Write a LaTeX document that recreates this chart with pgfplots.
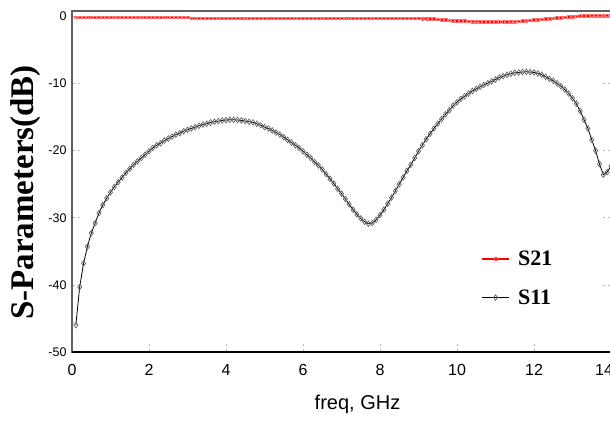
\documentclass[border=0pt]{standalone}
\usepackage{fontspec}
\setmainfont{Liberation Serif}
\setsansfont{Liberation Sans}
\usepackage{pgfplots}
\usepackage{pgfplotstable}
\pgfplotsset{compat=1.18}

\pgfplotstableread{
f s11 s21
0.1 -46.0 -0.15
0.2 -40.3 -0.15
0.3 -36.8 -0.15
0.4 -34.3 -0.15
0.5 -32.3 -0.15
0.6 -30.8 -0.15
0.7 -29.3 -0.15
0.8 -28.1 -0.15
0.9 -27.1 -0.15
1.0 -26.2 -0.15
1.1 -25.4 -0.15
1.2 -24.7 -0.15
1.3 -24.0 -0.15
1.4 -23.3 -0.15
1.5 -22.7 -0.15
1.6 -22.1 -0.15
1.7 -21.6 -0.15
1.8 -21.1 -0.15
1.9 -20.6 -0.15
2.0 -20.1 -0.15
2.1 -19.6 -0.15
2.2 -19.2 -0.15
2.3 -18.9 -0.15
2.4 -18.5 -0.15
2.5 -18.2 -0.15
2.6 -17.9 -0.15
2.7 -17.6 -0.15
2.8 -17.4 -0.15
2.9 -17.1 -0.15
3.0 -16.9 -0.15
3.1 -16.7 -0.3
3.2 -16.5 -0.3
3.3 -16.3 -0.3
3.4 -16.1 -0.3
3.5 -16.0 -0.3
3.6 -15.8 -0.3
3.7 -15.7 -0.3
3.8 -15.6 -0.3
3.9 -15.5 -0.3
4.0 -15.45 -0.3
4.1 -15.4 -0.3
4.2 -15.4 -0.3
4.3 -15.45 -0.3
4.4 -15.5 -0.3
4.5 -15.6 -0.3
4.6 -15.7 -0.3
4.7 -15.8 -0.3
4.8 -16.0 -0.3
4.9 -16.2 -0.3
5.0 -16.5 -0.3
5.1 -16.7 -0.3
5.2 -17.0 -0.3
5.3 -17.3 -0.3
5.4 -17.6 -0.3
5.5 -18.0 -0.3
5.6 -18.4 -0.3
5.7 -18.8 -0.3
5.8 -19.2 -0.3
5.9 -19.6 -0.3
6.0 -20.1 -0.3
6.1 -20.6 -0.3
6.2 -21.1 -0.3
6.3 -21.7 -0.3
6.4 -22.2 -0.3
6.5 -22.8 -0.3
6.6 -23.5 -0.3
6.7 -24.2 -0.3
6.8 -24.9 -0.3
6.9 -25.7 -0.3
7.0 -26.4 -0.3
7.1 -27.2 -0.3
7.2 -28.0 -0.3
7.3 -28.8 -0.3
7.4 -29.5 -0.3
7.5 -30.1 -0.3
7.6 -30.6 -0.3
7.7 -30.9 -0.3
7.8 -30.8 -0.3
7.9 -30.3 -0.3
8.0 -29.6 -0.3
8.1 -28.8 -0.3
8.2 -27.9 -0.3
8.3 -27.0 -0.3
8.4 -26.0 -0.3
8.5 -25.0 -0.3
8.6 -24.0 -0.3
8.7 -23.0 -0.3
8.8 -22.1 -0.3
8.9 -21.1 -0.3
9.0 -20.1 -0.3
9.1 -19.2 -0.32
9.2 -18.3 -0.34
9.3 -17.5 -0.36
9.4 -16.7 -0.4
9.5 -16.0 -0.45
9.6 -15.3 -0.5
9.7 -14.6 -0.55
9.8 -14.0 -0.6
9.9 -13.3 -0.63
10.0 -12.8 -0.66
10.1 -12.3 -0.7
10.2 -11.9 -0.72
10.3 -11.5 -0.75
10.4 -11.1 -0.77
10.5 -10.8 -0.79
10.6 -10.5 -0.8
10.7 -10.2 -0.82
10.8 -9.95 -0.83
10.9 -9.7 -0.84
11.0 -9.4 -0.84
11.1 -9.1 -0.84
11.2 -8.9 -0.83
11.3 -8.7 -0.82
11.4 -8.55 -0.8
11.5 -8.4 -0.77
11.6 -8.35 -0.73
11.7 -8.3 -0.69
11.8 -8.25 -0.65
11.9 -8.3 -0.6
12.0 -8.35 -0.55
12.1 -8.5 -0.5
12.2 -8.7 -0.45
12.3 -9.0 -0.4
12.4 -9.3 -0.35
12.5 -9.6 -0.3
12.6 -10.0 -0.25
12.7 -10.4 -0.2
12.8 -10.9 -0.15
12.9 -11.5 -0.1
13.0 -12.2 -0.05
13.1 -13.0 0.0
13.2 -14.1 0.03
13.3 -15.4 0.05
13.4 -16.7 0.07
13.5 -18.4 0.1
13.6 -20.0 0.1
13.7 -22.0 0.1
13.8 -23.6 0.1
13.9 -23.2 0.1
14.0 -22.3 0.1
}\datatable

\begin{document}
\begin{tikzpicture}
\begin{axis}[
  at={(0,0)}, anchor=south west,
  scale only axis,
  width=539bp, height=341bp,
  xmin=0, xmax=14, ymin=-50, ymax=0.8,
  xtick={0,2,...,12}, ytick={-50,-40,...,0},
  extra x ticks={14},
  extra x tick style={xticklabel style={xshift=-7bp}},
  xtick pos=bottom,
  tick align=inside,
  major tick length=8bp,
  tick style={gray!55, dashed, line width=0.6bp},
  axis line style={gray!75!black, line width=1.2bp},
  /pgf/number format/assume math mode=true,
  xticklabel style={font=\sffamily\fontsize{16bp}{19bp}\selectfont, yshift=-9bp},
  yticklabel style={font=\sffamily\fontsize{12.5bp}{15bp}\selectfont, xshift=-2bp},
  xlabel={freq, GHz},
  xlabel style={font=\sffamily\fontsize{20bp}{24bp}\selectfont, at={(axis description cs:0.5,0)}, anchor=north, yshift=-40bp, xshift=16bp},
  ylabel={S-Parameters(dB)},
  ylabel style={font=\bfseries\fontsize{33bp}{38bp}\selectfont, at={(axis description cs:-0.0853,0.468)}, anchor=center},
  legend style={draw=none, fill=none, at={(axis description cs:0.753,0.31)}, anchor=north west,
    font=\bfseries\fontsize{22bp}{26bp}\selectfont, row sep=19bp,
    nodes={inner xsep=8bp}},
  legend cell align=left,
  legend image code/.code={\draw[mark repeat=2,mark phase=2] plot coordinates {(0bp,0bp) (13.5bp,0bp) (27bp,0bp)};},
]
\addplot[red, line width=2bp, mark=square, mark size=1.4bp, mark options={solid, draw=red!55, line width=0.6bp, fill=white}]
  table[x=f, y=s21] {\datatable};
\addlegendentry{S21}
\addplot[black, line width=0.8bp, mark=diamond, mark size=2.8bp, mark options={solid, draw=black!60, line width=0.7bp, fill=white}]
  table[x=f, y=s11] {\datatable};
\addlegendentry{S11}
\draw[black, line width=1.3bp] (rel axis cs:0,0) -- (rel axis cs:1,0);
\end{axis}
\pgfresetboundingbox
\useasboundingbox (-72bp,-69bp) rectangle (538bp,352bp);
\end{tikzpicture}
\end{document}
